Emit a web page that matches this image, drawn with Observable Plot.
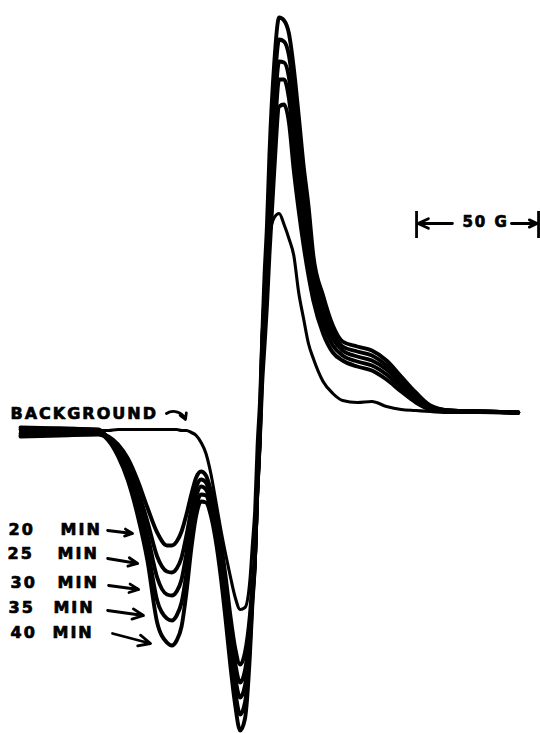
<!DOCTYPE html>
<html><head><meta charset="utf-8">
<script src="https://cdn.jsdelivr.net/npm/d3@7"></script>
<script src="https://cdn.jsdelivr.net/npm/@observablehq/plot@0.6"></script>
<style>html,body{margin:0;padding:0;background:#fff;}</style>
</head><body><div id="chart"></div>
<script>
// magnetic field offset (G)
const field = [0,16,32,36,40,44,48,52,56,60,62,64,66,68,70,72,74,76,78,80,82,84,86,88,90,92,94,95,96,97,98,99,100,101,102,104,106,108,110,112,114,116,118,120,124,128,132,138,144,150,156,162,168,176,188,204];
// first-derivative EPR signal (arbitrary units)
const background = [1,1,2,2,3,3,3,3,3,3, 3,3,2,2,0,-3,-10,-21,-41,-68, -96,-121,-144,-165,-177,-175,-148,-113,-78,-13, 32,97,132,164,195,215,219,208,194,177, 140,114,89,74,51,39,32,30,31,26, 23,22,21,20,20,19];
const min20 = [-1,0,-1,-4,-12,-26,-48,-75,-100,-113, -113,-109,-99,-82,-62,-45,-39,-43,-58,-78, -108,-143,-183,-216,-232,-220,-183,-153,-128,-63, -13,47,87,127,177,262,326,328,310,262, 222,187,157,132,99,80,72,66,62,53, 41,30,23,21,21,20];
const min25 = [3,4,2,-5,-15,-32,-57,-89,-124,-139, -140,-136,-125,-103,-77,-55,-47,-50,-65,-86, -117,-155,-196,-231,-250,-238,-194,-158,-129,-62, -10,59,106,149,204,291,353,353,334,290, 248,209,176,144,109,87,77,71,67,58, 45,33,24,21,21,20];
const min30 = [-4,-3,-2,-6,-18,-37,-66,-102,-145,-162, -163,-159,-147,-121,-89,-64,-54,-57,-71,-93, -126,-165,-208,-245,-265,-253,-203,-163,-131,-61, -8,70,122,167,227,316,371,370,355,313, 270,227,192,155,118,94,82,76,72,63, 49,35,25,22,21,20];
const min35 = [5,4,3,-7,-21,-43,-74,-115,-168,-186, -188,-183,-170,-141,-103,-74,-62,-63,-77,-101, -134,-175,-221,-259,-282,-270,-213,-168,-132,-59, -6,81,140,187,252,343,393,391,377,339, 293,247,210,166,128,100,86,81,77,67, 52,38,26,22,21,20];
const min40 = [-3,-2,-1,-8,-24,-48,-83,-128,-190,-210, -213,-208,-194,-160,-116,-83,-69,-70,-83,-108, -143,-186,-233,-273,-298,-286,-223,-173,-133,-58, -3,92,157,207,277,370,415,412,399,364, 317,267,227,177,137,107,91,86,82,72, 56,40,27,22,21,20];

const timeNumbers = ["20","25","30","35","40"];
const timeSeries = [min20, min25, min30, min35, min40];
// label annotation positions (field G, signal)
const numberX = [-4.9,-5.3,-4.1,-4.9,-4.1];
const minX = [16.4,15.2,15.2,13.5,13.1];
const labelY = [-97,-121,-150,-175,-200];
const arrowX1 = [35.7,35.7,36.1,35.7,37.7];
const arrowY1 = [-98,-126,-153,-178,-201];
const arrowX2 = [45.9,48.0,48.4,50.4,53.3];
const arrowY2 = [-101,-131,-157,-183,-211];
// scale bar (50 G)
const barStart = 162.3, barEnd = 212.3, barLow = 194, barHigh = 221, barY = 209;

const bgRows = field.map((f,i)=>({field:f, signal:background[i]}));
const timeRows = [];
timeSeries.forEach((arr,k)=>arr.forEach((v,i)=>timeRows.push({series:timeNumbers[k]+" MIN", field:field[i], signal:v})));
const labels = timeNumbers.map((n,k)=>({n, nx:numberX[k], mx:minX[k], y:labelY[k], x1:arrowX1[k], y1:arrowY1[k], x2:arrowX2[k], y2:arrowY2[k]}));

const font = "DejaVu Sans, Verdana, sans-serif";
const textOpts = {textAnchor:"start", fontSize:16, fontWeight:"bold", fill:"#000", stroke:"#000", strokeWidth:0.7};
const chart = Plot.plot({
  width: 540, height: 733, margin: 0,
  x: {domain: [-8.2, 213.1], axis: null},
  y: {domain: [-301, 432], axis: null},
  style: {fontFamily: font, background: "#fff", letterSpacing: "2px"},
  marks: [
    Plot.line(bgRows, {x:"field", y:"signal", stroke:"#000", strokeWidth:3.1, curve:"monotone-x", strokeLinejoin:"round"}),
    Plot.line(timeRows, {x:"field", y:"signal", z:"series", stroke:"#000", strokeWidth:3.9, curve:"monotone-x", strokeLinejoin:"round", strokeLinecap:"round"}),
    Plot.text(labels, {x:"nx", y:"y", text:"n", ...textOpts}),
    Plot.text(labels, {x:"mx", y:"y", text:()=>"MIN", ...textOpts}),
    Plot.arrow(labels, {x1:"x1", y1:"y1", x2:"x2", y2:"y2", stroke:"#000", strokeWidth:2.8, headLength:7, headAngle:50}),
    Plot.text(["BACKGROUND"], {x:()=>-4.1, y:()=>18.5, text:d=>d, ...textOpts}),
    Plot.arrow([0], {x1:()=>59.8, y1:()=>19, x2:()=>67.6, y2:()=>13, bend:50, stroke:"#000", strokeWidth:2.8, headLength:5, headAngle:60}),
    Plot.ruleX([barStart, barEnd], {y1:()=>barLow, y2:()=>barHigh, stroke:"#000", strokeWidth:2.8}),
    Plot.arrow([0], {x1:()=>177.0, y1:()=>barY, x2:()=>barStart+0.6, y2:()=>barY, stroke:"#000", strokeWidth:2.8, headLength:7, headAngle:50}),
    Plot.arrow([0], {x1:()=>201.2, y1:()=>barY, x2:()=>barEnd-0.6, y2:()=>barY, stroke:"#000", strokeWidth:2.8, headLength:7, headAngle:50}),
    Plot.text(["50 G"], {x:()=>190.6, y:()=>barY+1, text:d=>d, ...textOpts, textAnchor:"middle", fontSize:15})
  ]
});
document.getElementById("chart").appendChild(chart);
</script>
</body></html>
